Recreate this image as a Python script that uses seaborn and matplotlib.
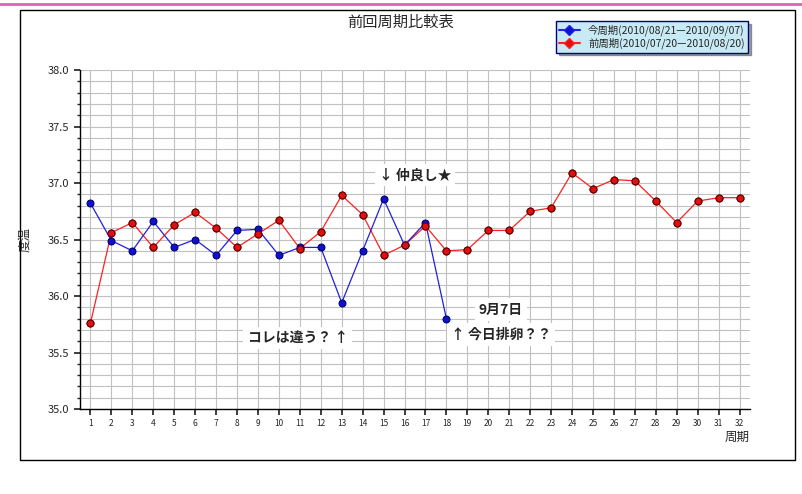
import numpy as np
import pandas as pd
import seaborn as sns
import matplotlib.pyplot as plt
from matplotlib.patches import Rectangle
from matplotlib.lines import Line2D

cur_days = list(range(1, 19))
cur_temp = [36.82, 36.49, 36.40, 36.66, 36.43, 36.50, 36.36, 36.58, 36.59,
            36.36, 36.43, 36.43, 35.94, 36.40, 36.86, 36.45, 36.65, 35.80]
prev_days = list(range(1, 33))
prev_temp = [35.76, 36.56, 36.65, 36.43, 36.63, 36.74, 36.60, 36.43, 36.55,
             36.67, 36.42, 36.57, 36.89, 36.72, 36.36, 36.45, 36.62, 36.40,
             36.41, 36.58, 36.58, 36.75, 36.78, 37.09, 36.95, 37.03, 37.02,
             36.84, 36.65, 36.84, 36.87, 36.87]
cur_label = "今周期(2010/08/21—2010/09/07)"
prev_label = "前周期(2010/07/20—2010/08/20)"

sns.set_theme(style="white")
plt.rcParams['font.family'] = ['Noto Sans CJK JP', 'DejaVu Sans']

fig = plt.figure(figsize=(8.02, 4.94), dpi=100)
W, H = 802, 494
# outer frame and pink top rule
fig.add_artist(Rectangle((20 / W, 1 - 460 / H), 775 / W, 450 / H, transform=fig.transFigure,
                         fill=False, edgecolor='black', lw=1))
fig.add_artist(Line2D([0, 1], [1 - 4 / H, 1 - 4 / H], transform=fig.transFigure, color='#e060c0', lw=2))

ax = fig.add_axes([80 / W, 1 - 409 / H, 670 / W, 339 / H])
df_prev = pd.DataFrame({'day': prev_days, 'temp': prev_temp})
df_cur = pd.DataFrame({'day': cur_days, 'temp': cur_temp})
mk = dict(marker='o', markersize=5)
sns.lineplot(data=df_prev, x='day', y='temp', ax=ax, color='#ff2020', lw=0.9,
             markerfacecolor='#e01010', markeredgecolor='#600000', zorder=3, **mk)
sns.lineplot(data=df_cur, x='day', y='temp', ax=ax, color='#2020e0', lw=0.9,
             markerfacecolor='#1010d0', markeredgecolor='#000060', zorder=4, **mk)
sns.lineplot(data=df_prev, x='day', y='temp', ax=ax, color='#ff2020', lw=0,
             markerfacecolor='#e01010', markeredgecolor='#600000', zorder=5, **mk)

ax.set_xlim(0.5, 32.5)
ax.set_ylim(35.0, 38.0)
ax.set_xticks(prev_days)
ax.set_xticklabels([str(d) for d in prev_days], fontsize=6)
ax.set_yticks(np.arange(35.0, 38.01, 0.5))
ax.set_yticklabels([f"{v:.1f}" for v in np.arange(35.0, 38.01, 0.5)], fontsize=8)
ax.set_yticks(np.arange(35.0, 38.01, 0.1), minor=True)
ax.grid(True, which='both', color='#c0c0c0', lw=0.8)
ax.tick_params(axis='y', which='both', left=True, length=4, direction='out')
ax.tick_params(axis='y', which='minor', length=2)
ax.tick_params(axis='x', bottom=True, length=4, direction='out')
for s in ['top', 'right']:
    ax.spines[s].set_visible(False)
for s in ['left', 'bottom']:
    ax.spines[s].set_color('black')
    ax.spines[s].set_linewidth(1)
ax.set_xlabel("")
ax.set_ylabel("度温", fontsize=9, rotation=90, labelpad=12)
ax.text(1.0, -0.065, "周期", transform=ax.transAxes, fontsize=9, ha='right', va='top')
fig.text(0.5, 1 - 22 / H, "前回周期比較表", ha='center', va='center', fontsize=11)

box = dict(facecolor='white', edgecolor='none', pad=3)
ax.text(16.5, 37.07, "↓ 仲良し★", fontsize=10, fontweight='bold', ha='center', va='center', bbox=box)
ax.text(10.9, 35.63, "コレは違う？ ↑", fontsize=10, fontweight='bold', ha='center', va='center', bbox=box)
ax.text(20.6, 35.88, "9月7日", fontsize=10, fontweight='bold', ha='center', va='center', bbox=box)
ax.text(20.6, 35.66, "↑ 今日排卵？？", fontsize=10, fontweight='bold', ha='center', va='center', bbox=box)

handles = [Line2D([], [], color='#2020e0', marker='D', markersize=5, markerfacecolor='#1010d0'),
           Line2D([], [], color='#ff2020', marker='D', markersize=5, markerfacecolor='#e01010')]
leg = fig.legend(handles, [cur_label, prev_label], loc='upper right',
                 bbox_to_anchor=(753 / W, 1 - 16 / H), fontsize=7.5, frameon=True,
                 fancybox=False, shadow=True, handlelength=2, borderpad=0.3, labelspacing=0.2)
leg.get_frame().set_facecolor('#c8eaf4')
leg.get_frame().set_edgecolor('#000080')

fig.savefig("out.png", dpi=100)
